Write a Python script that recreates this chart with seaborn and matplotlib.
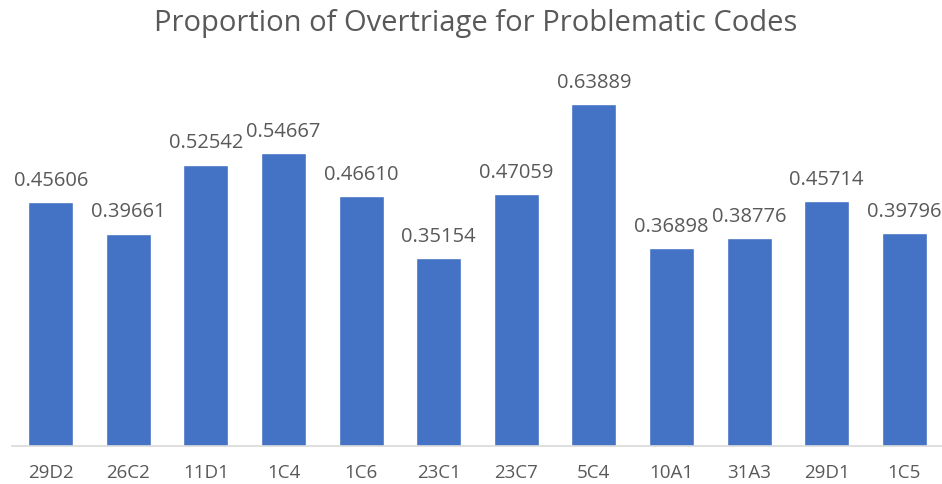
import matplotlib
matplotlib.use("Agg")
import matplotlib.pyplot as plt
import seaborn as sns
import pandas as pd

codes = ["29D2", "26C2", "11D1", "1C4", "1C6", "23C1", "23C7", "5C4", "10A1", "31A3", "29D1", "1C5"]
proportions = [0.45606, 0.39661, 0.52542, 0.54667, 0.46610, 0.35154, 0.47059, 0.63889, 0.36898, 0.38776, 0.45714, 0.39796]
label_texts = ["0.45606", "0.39661", "0.52542", "0.54667", "0.46610", "0.35154", "0.47059", "0.63889", "0.36898", "0.38776", "0.45714", "0.39796"]
title = "Proportion of Overtriage for Problematic Codes"

sns.set_theme(style="white")
plt.rcParams['font.family'] = ['Open Sans', 'DejaVu Sans']

df = pd.DataFrame({"code": codes, "proportion": proportions})

fig = plt.figure(figsize=(9.42, 4.84), dpi=100)
ax = fig.add_axes([12/942, 38/484, 931/942, 375/484])
sns.barplot(data=df, x="code", y="proportion", color="#4472C4", saturation=1, width=0.58, ax=ax)
ax.set_ylim(0, 0.7)
ax.set_xlim(-0.5, len(codes) - 0.5)
for s in ["top", "right", "left"]:
    ax.spines[s].set_visible(False)
ax.spines["bottom"].set_color("#D9D9D9")
ax.spines["bottom"].set_linewidth(1.2)
ax.set_yticks([])
ax.set_xlabel("")
ax.set_ylabel("")
ax.tick_params(axis="x", length=0, pad=13, labelsize=13.5, labelcolor="#595959")
ax.bar_label(ax.containers[0], labels=label_texts, padding=8, fontsize=14.5, color="#595959")
fig.text(0.505, 1 - 23/484, title, ha="center", va="center", fontsize=21, color="#595959")
fig.savefig("out.png", dpi=100)
